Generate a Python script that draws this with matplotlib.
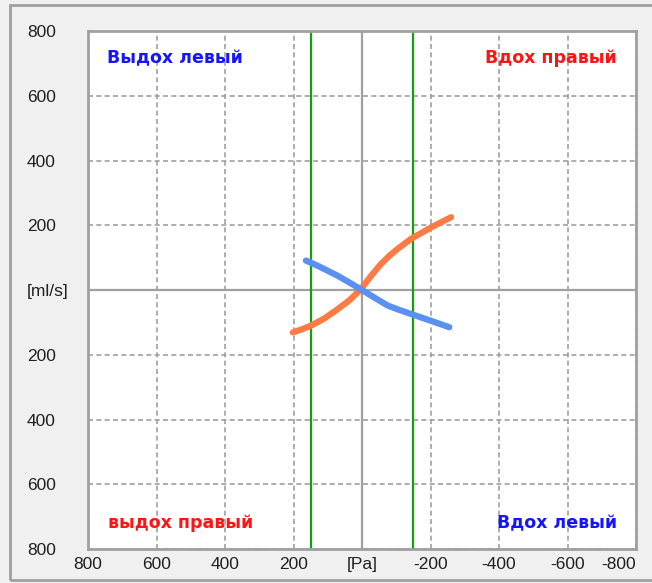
import matplotlib
matplotlib.use('Agg')
import matplotlib.pyplot as plt
import matplotlib.patches as patches

# Datos
tics = [800, 600, 400, 200, 0, -200, -400, -600, -800]
etiquetas_x = ['800', '600', '400', '200', '[Pa]', '-200', '-400', '-600', '-800']
etiquetas_y = ['800', '600', '400', '200', '[ml/s]', '200', '400', '600', '800']

presion_naranja = [202, 170, 149, 110, 71, 35, 3, -25, -55, -80, -105, -143, -201, -260]
flujo_naranja = [-131, -119, -110, -88, -59, -30, 3, 42, 80, 106, 128, 158, 193, 225]

presion_azul = [164, 140, 120, 71, 35, 0, -40, -75, -110, -143, -201, -255]
flujo_azul = [91, 80, 70, 44, 22, 0, -26, -48, -62, -74, -95, -115]

limites_verdes = [150, -150]

gris = '#a0a0a0'

fig = plt.figure(figsize=(6.52, 5.83), dpi=100, facecolor='#f0f0f0')
ax = fig.add_axes([0.135, 0.0583, 0.8405, 0.8885])
ax.set_facecolor('white')

# marco exterior (sigue mas alla del borde derecho)
fig.patches.append(patches.Rectangle((10 / 652, 3 / 583), 660 / 652, 575 / 583,
                                     transform=fig.transFigure, fill=False,
                                     edgecolor=gris, linewidth=2))

ax.set_xlim(800, -800)
ax.set_ylim(-800, 800)
ax.set_xticks(tics)
ax.set_xticklabels(etiquetas_x)
ax.set_yticks(tics)
ax.set_yticklabels(etiquetas_y, ha='left')
ax.tick_params(axis='both', length=0, labelsize=12.5, colors='#202020')
ax.tick_params(axis='y', pad=44)
ax.tick_params(axis='x', pad=6)
for lab in ax.get_xticklabels() + ax.get_yticklabels():
    lab.set_family('Liberation Sans')
ax.get_xticklabels()[-1].set_ha('right')

ax.grid(True, color=gris, linestyle=(0, (3, 2)), linewidth=1.2)
ax.axhline(0, color=gris, linewidth=1.6)
ax.axvline(0, color=gris, linewidth=1.6)
for s in ax.spines.values():
    s.set_color(gris)
    s.set_linewidth(2)

for v in limites_verdes:
    ax.axvline(v, color='#10a010', linewidth=1.6)

ax.plot(presion_naranja, flujo_naranja, color='#ff7a45', linewidth=4.5,
        solid_capstyle='round', solid_joinstyle='round')
ax.plot(presion_azul, flujo_azul, color='#5a90f0', linewidth=4.5,
        solid_capstyle='round', solid_joinstyle='round')

fuente = dict(fontsize=12.5, fontweight='bold', family='DejaVu Sans', va='center')
ax.text(0.035, 0.948, 'Выдох левый', transform=ax.transAxes, color='#1414ff', ha='left', **fuente)
ax.text(0.965, 0.948, 'Вдох правый', transform=ax.transAxes, color='#ff1414', ha='right', **fuente)
ax.text(0.037, 0.05, 'выдох правый', transform=ax.transAxes, color='#ff1414', ha='left', **fuente)
ax.text(0.965, 0.05, 'Вдох левый', transform=ax.transAxes, color='#1414ff', ha='right', **fuente)

fig.savefig('out.png', dpi=100, facecolor=fig.get_facecolor())
